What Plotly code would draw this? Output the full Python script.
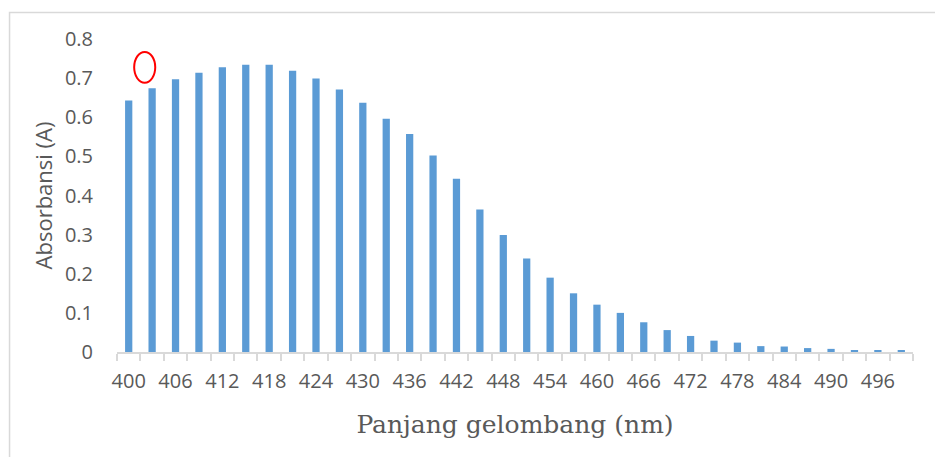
import plotly.graph_objects as go

wavelengths = list(range(400, 500, 3))
absorbance = [0.643, 0.674, 0.697, 0.714, 0.728, 0.734, 0.734, 0.719, 0.699, 0.671,
              0.637, 0.596, 0.557, 0.502, 0.443, 0.364, 0.299, 0.239, 0.190, 0.150,
              0.121, 0.100, 0.076, 0.056, 0.041, 0.029, 0.024, 0.015, 0.014, 0.010,
              0.008, 0.005, 0.005, 0.003]
x_tick_labels = list(range(400, 500, 6))
y_ticks = [0, 0.1, 0.2, 0.3, 0.4, 0.5, 0.6, 0.7, 0.8]

fig = go.Figure()
fig.add_trace(go.Bar(x=wavelengths, y=absorbance, marker=dict(color="#5B9BD5", line=dict(width=0)),
                     showlegend=False))

# page body has an 8px default margin, so the figure is sized to fit the 943x457 window
fig.update_layout(
    width=935, height=449,
    margin=dict(l=109, r=30, t=31, b=105),
    plot_bgcolor="white", paper_bgcolor="white",
    bargap=0.69,
    font=dict(family="Open Sans", color="#595959"),
)
fig.update_xaxes(
    range=[398.5, 500.5],
    tickmode="array", tickvals=x_tick_labels, ticktext=[str(v) for v in x_tick_labels],
    ticks="outside", ticklen=0, tickcolor="rgba(0,0,0,0)",
    ticklabelstandoff=10,
    tickfont=dict(family="Open Sans", size=20, color="#595959"),
    showline=True, linecolor="#D9D9D9", linewidth=1.5,
    showgrid=False, zeroline=False,
    minor=dict(tick0=398.5, dtick=3, ticks="outside", ticklen=7, tickcolor="#D9D9D9", tickwidth=1.5, showgrid=False),
    title=dict(text="Panjang gelombang (nm)", font=dict(family="DejaVu Serif", size=25, color="#595959"), standoff=23),
)
fig.update_yaxes(
    range=[0, 0.8],
    tickmode="array", tickvals=y_ticks, ticktext=[("%g" % v) for v in y_ticks],
    tickfont=dict(family="Open Sans", size=20, color="#595959"),
    ticks="outside", ticklen=0, tickcolor="rgba(0,0,0,0)",
    ticklabelstandoff=19,
    showline=False, showgrid=False, zeroline=False,
    title=dict(text="Absorbansi (A)", font=dict(family="Open Sans", size=22, color="#595959"), standoff=6),
)

# outer chart border (extends beyond the image at right and bottom)
fig.add_shape(type="rect", xref="paper", yref="paper",
              x0=-0.135, x1=1.2, y0=-0.6, y1=1.085,
              line=dict(color="#D9D9D9", width=1.5), fillcolor="rgba(0,0,0,0)", layer="below")

# red highlight ellipse
fig.add_shape(type="circle", xref="x", yref="y",
              x0=400.7, x1=403.4, y0=0.688, y1=0.767,
              line=dict(color="#FF0000", width=2))

fig.write_html("out.html")
